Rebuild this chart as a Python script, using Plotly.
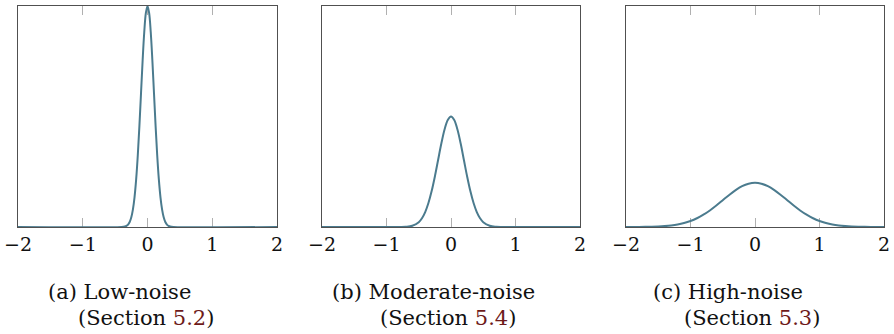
import plotly.graph_objects as go

W, H = 894, 334

# Panel (a): low-noise density
x_low = [-2.0, -0.4, -0.35, -0.325, -0.3, -0.275, -0.25, -0.225, -0.2, -0.175, -0.15, -0.125, -0.1, -0.075,
         -0.05, -0.025, 0.0, 0.025, 0.05, 0.075, 0.1, 0.125, 0.15, 0.175, 0.2, 0.225, 0.25, 0.275, 0.3,
         0.325, 0.35, 0.4, 2.0]
y_low = [0.0, 0.0013, 0.0087, 0.0203, 0.0443, 0.0909, 0.175, 0.3174, 0.540, 0.863, 1.295, 1.826, 2.420, 3.011,
         3.520, 3.866, 3.989, 3.866, 3.520, 3.011, 2.420, 1.826, 1.295, 0.863, 0.540, 0.3174, 0.175, 0.0909, 0.0443,
         0.0203, 0.0087, 0.0013, 0.0]

# Panel (b): moderate-noise density
x_mod = [-2.0, -0.8, -0.7, -0.6, -0.5, -0.45, -0.4, -0.35, -0.3, -0.25, -0.2, -0.15, -0.1, -0.05, 0.0,
         0.05, 0.1, 0.15, 0.2, 0.25, 0.3, 0.35, 0.4, 0.45, 0.5, 0.6, 0.7, 0.8, 2.0]
y_mod = [0.0, 0.0007, 0.0044, 0.0222, 0.0876, 0.159, 0.270, 0.432, 0.648, 0.913, 1.210, 1.506, 1.760, 1.933, 1.995,
         1.933, 1.760, 1.506, 1.210, 0.913, 0.648, 0.432, 0.270, 0.159, 0.0876, 0.0222, 0.0044, 0.0007, 0.0]

# Panel (c): high-noise density
x_high = [-2.0, -1.9, -1.8, -1.7, -1.6, -1.5, -1.4, -1.3, -1.2, -1.1, -1.0, -0.9, -0.8, -0.7, -0.6, -0.5,
          -0.4, -0.3, -0.2, -0.1, 0.0, 0.1, 0.2, 0.3, 0.4, 0.5, 0.6, 0.7, 0.8, 0.9, 1.0, 1.1, 1.2, 1.3,
          1.4, 1.5, 1.6, 1.7, 1.8, 1.9, 2.0]
y_high = [0.0003, 0.0006, 0.0012, 0.0025, 0.0048, 0.0089, 0.0158, 0.0272, 0.0448, 0.0709, 0.108, 0.158, 0.222,
          0.299, 0.388, 0.484, 0.579, 0.666, 0.737, 0.782, 0.798, 0.782, 0.737, 0.666, 0.579, 0.484, 0.388,
          0.299, 0.222, 0.158, 0.108, 0.0709, 0.0448, 0.0272, 0.0158, 0.0089, 0.0048, 0.0025, 0.0012,
          0.0006, 0.0003]

tick_vals = [-2, -1, 0, 1, 2]
tick_text = ["\u22122", "\u22121", "0", "1", "2"]
captions = [("(a) Low-noise", "5.2"), ("(b) Moderate-noise", "5.4"), ("(c) High-noise", "5.3")]

curve_color = "#4b7b8e"
ref_color = "#6e1a1a"
font_fam = "DejaVu Serif"

# pixel layout of the three panels
px_left = [18, 322, 626]
px_right = [277, 580, 884]
px_top, px_bottom = 6, 227
cap1_left = [46, 330, 651]
cap2_left = [76, 378, 682]
cap1_y, cap2_y = 292, 318

fig = go.Figure()
series = [(x_low, y_low), (x_mod, y_mod), (x_high, y_high)]
ph = px_bottom - px_top
for i, (xs, ys) in enumerate(series):
    n = "" if i == 0 else str(i + 1)
    fig.add_trace(go.Scatter(x=xs, y=ys, mode="lines", line=dict(color=curve_color, width=2, shape="spline"),
                             xaxis="x" + n, yaxis="y" + n, showlegend=False, hoverinfo="skip"))
    dom_x = [px_left[i] / W, px_right[i] / W]
    dom_y = [1 - px_bottom / H, 1 - px_top / H]
    pw = px_right[i] - px_left[i]
    fig.update_layout(**{
        "xaxis" + n: dict(domain=dom_x, range=[-2, 2], tickvals=tick_vals, ticktext=tick_text,
                          ticks="inside", ticklen=9, tickcolor="#b0b0b0", tickwidth=1,
                          showline=True, linecolor="#505050", linewidth=1, mirror="ticks",
                          showgrid=False, zeroline=False, anchor="y" + n, layer="below traces",
                          automargin=False,
                          tickfont=dict(family=font_fam, size=19, color="#111"), fixedrange=True),
        "yaxis" + n: dict(domain=dom_y, range=[0, 3.99], showticklabels=False, ticks="",
                          showline=True, linecolor="#505050", linewidth=1, mirror=True,
                          showgrid=False, zeroline=False, anchor="x" + n, layer="below traces",
                          automargin=False, fixedrange=True),
    })
    fig.add_annotation(x=(cap1_left[i] - px_left[i]) / pw, y=-(cap1_y - px_bottom) / ph,
                       xref="x" + n + " domain", yref="y" + n + " domain",
                       xanchor="left", yanchor="middle", showarrow=False, text=captions[i][0],
                       font=dict(family=font_fam, size=21, color="#111"))
    fig.add_annotation(x=(cap2_left[i] - px_left[i]) / pw, y=-(cap2_y - px_bottom) / ph,
                       xref="x" + n + " domain", yref="y" + n + " domain",
                       xanchor="left", yanchor="middle", showarrow=False,
                       text="(Section <span style='color:%s'>%s</span>)" % (ref_color, captions[i][1]),
                       font=dict(family=font_fam, size=21, color="#111"))

fig.update_layout(width=W, height=H, margin=dict(l=0, r=0, t=0, b=0),
                  paper_bgcolor="white", plot_bgcolor="white",
                  font=dict(family=font_fam))
fig.write_html("out.html")
